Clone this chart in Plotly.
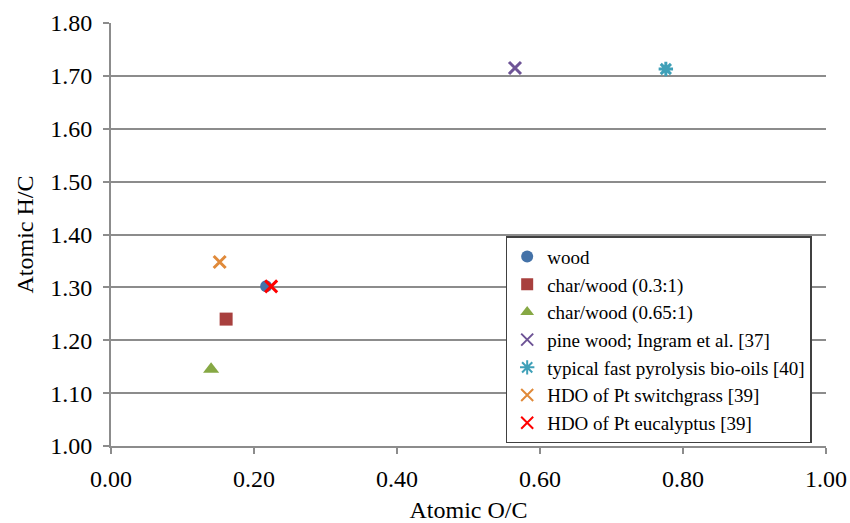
import plotly.graph_objects as go

series_names = [
    "wood",
    "char/wood (0.3:1)",
    "char/wood (0.65:1)",
    "pine wood; Ingram et al. [37]",
    "typical fast pyrolysis bio-oils [40]",
    "HDO of Pt switchgrass [39]",
    "HDO of Pt eucalyptus [39]",
]
oc_values = [0.217, 0.161, 0.140, 0.565, 0.776, 0.152, 0.224]
hc_values = [1.302, 1.240, 1.145, 1.715, 1.713, 1.348, 1.302]

colors = ["#4472A8", "#A8403E", "#86A844", "#6E5496", "#3FA0B8", "#E08A3A", "#FF0000"]
symbols = ["circle", "square", "triangle-up", "x-thin", "asterisk", "x-thin", "x-thin"]
sizes = [12, 13, 14, 12, 12, 12, 12]

fig = go.Figure()
for name, x, y, c, s, sz in zip(series_names, oc_values, hc_values, colors, symbols, sizes):
    thin = s in ("x-thin", "asterisk")
    fig.add_trace(go.Scatter(
        x=[x], y=[y], mode="markers", name=name,
        marker=dict(symbol=s, size=sz, color=c,
                    line=dict(color=c, width=3 if thin else 0)),
    ))

font = "Liberation Serif, Times New Roman, serif"
tf = dict(family=font, size=24, color="black")
fig.update_layout(
    width=850, height=523,
    margin=dict(l=111, r=24, t=23, b=77),
    paper_bgcolor="white", plot_bgcolor="white",
    font=dict(family=font, size=24, color="black"),
    xaxis=dict(
        range=[0, 1], dtick=0.2, tickformat=".2f", tickfont=tf, automargin=False,
        showgrid=False, showline=True, linecolor="#8c8c8c", linewidth=2,
        ticks="outside", ticklen=6, tickcolor="#8c8c8c", tickwidth=2,
        ticklabelstandoff=4,
        title=dict(text="Atomic O/C", standoff=10, font=tf), zeroline=False,
    ),
    yaxis=dict(
        range=[1.0, 1.8], dtick=0.1, tickformat=".2f", tickfont=tf, automargin=False,
        showgrid=True, gridcolor="#8c8c8c", gridwidth=2,
        showline=True, linecolor="#8c8c8c", linewidth=2,
        ticks="outside", ticklen=6, tickcolor="#8c8c8c", tickwidth=2,
        ticklabelstandoff=6,
        title=dict(text="Atomic H/C", standoff=10, font=tf), zeroline=False,
    ),
    legend=dict(
        x=0.552, y=0.496, xanchor="left", yanchor="top",
        bgcolor="white", bordercolor="#404040", borderwidth=1.5,
        font=dict(family=font, size=19, color="black"), itemsizing="constant",
        tracegroupgap=0, itemwidth=30,
    ),
)

fig.write_html("out.html", config={"displayModeBar": False},
               post_script="document.body.style.margin='0';")
